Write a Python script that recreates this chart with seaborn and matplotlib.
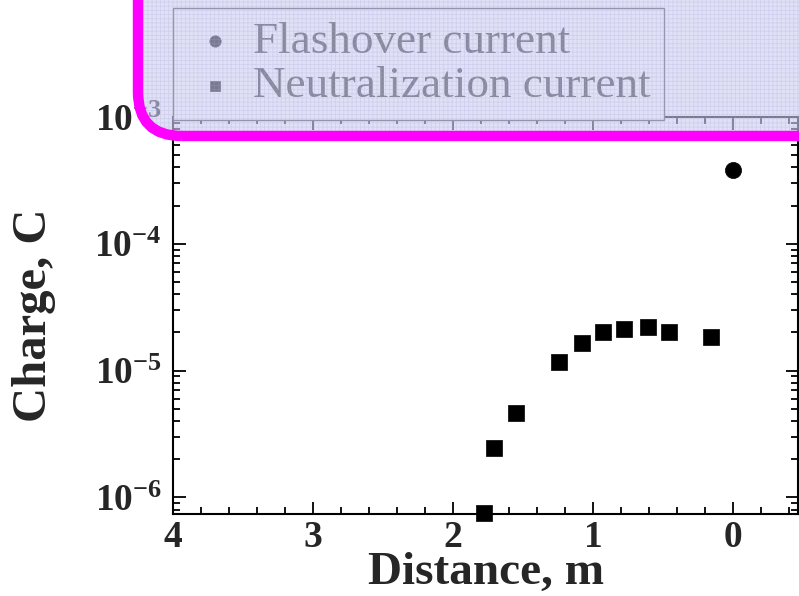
import numpy as np
import pandas as pd
import matplotlib
matplotlib.use("Agg")
import matplotlib.pyplot as plt
import seaborn as sns
from matplotlib.patches import FancyBboxPatch
from matplotlib.transforms import IdentityTransform
from matplotlib.ticker import MultipleLocator, LogLocator, LogFormatterMathtext, NullFormatter

# values
flash_dist = [0.0]
flash_charge = [3.8e-4]
neut_dist = [1.78, 1.71, 1.55, 1.24, 1.08, 0.93, 0.78, 0.61, 0.46, 0.16]
neut_charge = [7.5e-7, 2.45e-6, 4.6e-6, 1.17e-5, 1.66e-5, 2.02e-5, 2.13e-5, 2.2e-5, 2.02e-5, 1.84e-5]
series_names = ["Flashover current", "Neutralization current"]
x_ticks = [4, 3, 2, 1, 0]

sns.set_theme(style="ticks")
plt.rcParams["font.family"] = ["Liberation Serif", "DejaVu Serif"]
plt.rcParams["hatch.linewidth"] = 0.6

fig = plt.figure(figsize=(7.99, 5.96), dpi=100)
ax = fig.add_axes([173 / 799, 82 / 596, 625 / 799, 397 / 596])

df_flash = pd.DataFrame({"dist": flash_dist, "charge": flash_charge})
df_neut = pd.DataFrame({"dist": neut_dist, "charge": neut_charge})

sns.scatterplot(data=df_flash, x="dist", y="charge", marker="o", s=135, color="black",
                edgecolor="black", linewidth=0.5, label=series_names[0], ax=ax,
                clip_on=False, zorder=5)
sns.scatterplot(data=df_neut, x="dist", y="charge", marker="s", s=118, color="black",
                edgecolor="black", linewidth=0.5, label=series_names[1], ax=ax,
                clip_on=False, zorder=5)

ax.set_yscale("log")
ax.set_xlim(4, -0.464)
ax.set_ylim(7.4e-7, 1.0e-3)

ax.xaxis.set_major_locator(plt.FixedLocator(x_ticks))
ax.xaxis.set_minor_locator(MultipleLocator(0.2))
ax.yaxis.set_major_locator(LogLocator(base=10))
ax.yaxis.set_minor_locator(LogLocator(base=10, subs=np.arange(2, 10)))
ax.yaxis.set_major_formatter(LogFormatterMathtext())
ax.yaxis.set_minor_formatter(NullFormatter())

for s in ax.spines.values():
    s.set_linewidth(1.5)
    s.set_color("black")
ax.tick_params(which="both", direction="in", top=True, right=True, width=1.3, color="black")
ax.tick_params(which="major", length=9, labelsize=27)
ax.tick_params(axis="x", which="major", pad=4)
ax.tick_params(axis="y", which="major", pad=8)
ax.tick_params(which="minor", length=5)
for lab in ax.get_xticklabels() + ax.get_yticklabels():
    lab.set_fontweight("bold")

ax.set_xlabel("Distance, m", fontsize=34, fontweight="bold", labelpad=-2)
ax.set_ylabel("Charge, C", fontsize=35, fontweight="bold")
ax.yaxis.set_label_coords(-0.187, 0.5)

leg = ax.legend(loc="lower left", bbox_to_anchor=(0, 1 - 3 / 397), borderaxespad=0,
                fancybox=False, frameon=True, edgecolor="0.25", framealpha=1,
                markerscale=0.7, prop={"family": "Liberation Serif", "size": 32.5},
                handletextpad=0.2, borderpad=0.3, labelspacing=0.08, handlelength=1.27)
leg.get_frame().set_linewidth(1.0)

# translucent lavender panel with dotted grid and magenta rounded border
H = 596
box_kw = dict(boxstyle="round,pad=0,rounding_size=44", transform=IdentityTransform())
fill = FancyBboxPatch((138, H - 136), 800, 300, facecolor=(0.80, 0.80, 0.94, 0.6),
                      edgecolor="none", zorder=10, **box_kw)
grid = FancyBboxPatch((138, H - 136), 800, 300, facecolor="none",
                      edgecolor=(0.66, 0.66, 0.86, 0.28), linewidth=0, hatch="++++",
                      zorder=11, **box_kw)
border = FancyBboxPatch((138, H - 136), 800, 300, facecolor="none",
                        edgecolor="#ff00ff", linewidth=7.5, zorder=12, **box_kw)
for p in (fill, grid, border):
    fig.add_artist(p)

fig.savefig("out.png", dpi=100)
